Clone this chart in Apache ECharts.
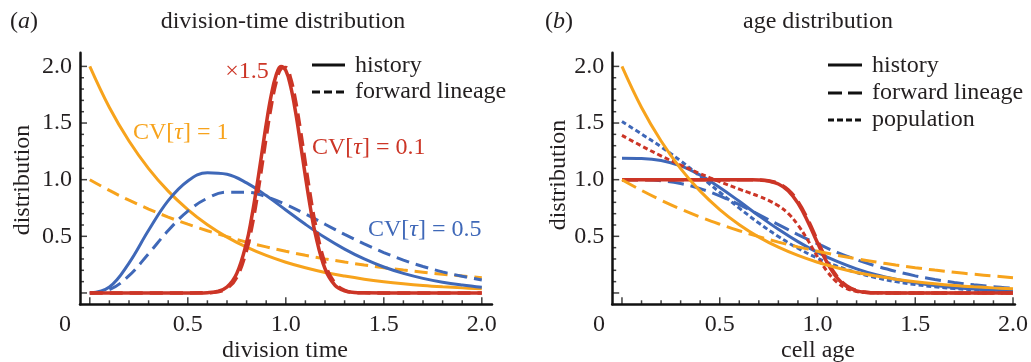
<!DOCTYPE html>
<html>
<head>
<meta charset="utf-8">
<script src="https://cdn.jsdelivr.net/npm/echarts@6/dist/echarts.min.js"></script>
<style>
  html, body { margin: 0; padding: 0; background: #fff; }
  #chart { width: 1031px; height: 362px; }
</style>
</head>
<body>
<div id="chart"></div>
<script>
  // (a) division-time distribution
  var tGrid = [0, 0.1, 0.2, 0.3, 0.4, 0.5, 0.6, 0.7, 0.8, 0.9, 1.0, 1.1, 1.2, 1.3, 1.4, 1.5, 1.6, 1.7, 1.8, 1.9, 2.0]
  var divHistExp = [2.000, 1.637, 1.341, 1.098, 0.899, 0.736, 0.602, 0.493, 0.404, 0.331, 0.271, 0.222, 0.181, 0.149, 0.122, 0.100, 0.082, 0.067, 0.055, 0.045, 0.037]
  var divFwdExp = [1.000, 0.905, 0.819, 0.741, 0.670, 0.607, 0.549, 0.497, 0.449, 0.407, 0.368, 0.333, 0.301, 0.273, 0.247, 0.223, 0.202, 0.183, 0.165, 0.150, 0.135]
  var divHistGam = [0, 0.053, 0.264, 0.553, 0.815, 0.989, 1.062, 1.048, 0.972, 0.860, 0.733, 0.606, 0.489, 0.387, 0.300, 0.229, 0.173, 0.129, 0.095, 0.070, 0.050]
  var divFwdGam = [0, 0.029, 0.153, 0.347, 0.551, 0.722, 0.836, 0.890, 0.890, 0.850, 0.782, 0.697, 0.607, 0.517, 0.433, 0.357, 0.290, 0.234, 0.186, 0.147, 0.115]
  var tGridRed = [0, 0.5, 0.6, 0.65, 0.7, 0.75, 0.8, 0.825, 0.85, 0.875, 0.9, 0.925, 0.95, 0.975, 1.0, 1.025, 1.05, 1.075, 1.1, 1.125, 1.15, 1.2, 1.25, 1.3, 1.35, 1.4, 1.5, 2.0]
  var divHistNarrow = [0, 0, 0.003, 0.013, 0.053, 0.173, 0.447, 0.659, 0.916, 1.201, 1.488, 1.739, 1.919, 1.998, 1.963, 1.821, 1.595, 1.318, 1.028, 0.757, 0.526, 0.214, 0.069, 0.018, 0.004, 0.001, 0, 0]
  var divFwdNarrow = [0, 0, 0.002, 0.010, 0.041, 0.140, 0.377, 0.568, 0.808, 1.085, 1.376, 1.645, 1.857, 1.979, 1.991, 1.890, 1.693, 1.432, 1.143, 0.861, 0.613, 0.260, 0.088, 0.024, 0.005, 0.001, 0, 0]

  // (b) age distribution
  var aGrid = [0, 0.1, 0.2, 0.3, 0.4, 0.5, 0.6, 0.7, 0.8, 0.9, 1.0, 1.1, 1.2, 1.3, 1.4, 1.5, 1.6, 1.7, 1.8, 1.9, 2.0]
  var ageHistExp = [2.000, 1.637, 1.341, 1.098, 0.899, 0.736, 0.602, 0.493, 0.404, 0.331, 0.271, 0.222, 0.181, 0.149, 0.122, 0.100, 0.082, 0.067, 0.055, 0.045, 0.037]
  var ageFwdExp = [1.000, 0.905, 0.819, 0.741, 0.670, 0.607, 0.549, 0.497, 0.449, 0.407, 0.368, 0.333, 0.301, 0.273, 0.247, 0.223, 0.202, 0.183, 0.165, 0.150, 0.135]
  var ageHistGam = [1.189, 1.187, 1.170, 1.122, 1.040, 0.931, 0.809, 0.682, 0.562, 0.453, 0.358, 0.278, 0.213, 0.161, 0.121, 0.089, 0.065, 0.048, 0.034, 0.025, 0.018]
  var ageFwdGam = [1.000, 0.999, 0.991, 0.966, 0.921, 0.857, 0.779, 0.692, 0.603, 0.515, 0.434, 0.359, 0.294, 0.238, 0.191, 0.151, 0.119, 0.093, 0.072, 0.055, 0.042]
  var agePopGam = [1.514, 1.403, 1.290, 1.166, 1.030, 0.889, 0.749, 0.617, 0.498, 0.395, 0.308, 0.237, 0.180, 0.135, 0.100, 0.074, 0.054, 0.039, 0.028, 0.020, 0.014]
  var aGridRed = [0, 0.1, 0.2, 0.3, 0.4, 0.5, 0.6, 0.65, 0.7, 0.75, 0.8, 0.85, 0.9, 0.95, 1.0, 1.05, 1.1, 1.15, 1.2, 1.25, 1.3, 1.4, 1.6, 2.0]
  var ageHistNarrow = [1, 1, 1, 1, 1, 1, 1, 0.999, 0.997, 0.988, 0.962, 0.903, 0.793, 0.632, 0.443, 0.266, 0.134, 0.056, 0.019, 0.005, 0.001, 0, 0, 0]
  var ageFwdNarrow = [1, 1, 1, 1, 1, 1, 1, 1.000, 0.997, 0.990, 0.966, 0.911, 0.807, 0.650, 0.462, 0.282, 0.145, 0.062, 0.022, 0.006, 0.001, 0, 0, 0]
  var agePopNarrow = [1.391, 1.298, 1.210, 1.129, 1.053, 0.982, 0.916, 0.885, 0.853, 0.817, 0.770, 0.702, 0.600, 0.467, 0.320, 0.189, 0.094, 0.039, 0.013, 0.004, 0.001, 0, 0, 0]

  // tick positions and labels
  var labelValues = [0.5, 1.0, 1.5, 2.0]
  var majorTicks = [0, 0.5, 1.0, 1.5, 2.0]
  var minorTicks = [0.1, 0.2, 0.3, 0.4, 0.6, 0.7, 0.8, 0.9, 1.1, 1.2, 1.3, 1.4, 1.6, 1.7, 1.8, 1.9]

  var ORANGE = '#f7a31c'
  var BLUE = '#3f68b8'
  var RED = '#cc3526'
  var FONT = '"Liberation Serif", "Times New Roman", serif'
  var TXT = '#231f20'

  var X_MIN = [-0.05, -0.05]
  var X_MAX = [2.052, 2.01]
  var Y_MIN = -0.1
  var Y_MAX = 2.12

  function pts(xs, ys) {
    return xs.map(function (x, i) { return [x, ys[i]] })
  }

  function line(name, xs, ys, color, dash, axis, w) {
    return {
      name: name,
      type: 'line',
      xAxisIndex: axis,
      yAxisIndex: axis,
      data: pts(xs, ys),
      smooth: 0.4,
      symbol: 'none',
      silent: true,
      lineStyle: { color: color, width: w || 3, type: dash || 'solid', cap: 'butt' }
    }
  }

  // inward frame ticks, placed on the axis lines through the axis scales
  function ticks(axis, kind, values, len) {
    var data = values.map(function (v) {
      return kind === 'x' ? [v, Y_MIN] : [X_MIN[axis], v]
    })
    return {
      type: 'scatter', xAxisIndex: axis, yAxisIndex: axis, silent: true, clip: false, z: 5,
      data: data,
      symbol: 'rect',
      symbolSize: kind === 'x' ? [1.5, len] : [len, 1.5],
      symbolOffset: kind === 'x' ? [0, -len / 2] : [len / 2, 0],
      itemStyle: { color: '#111' }
    }
  }

  function tickLabel(v) {
    for (var i = 0; i < labelValues.length; i++) {
      if (Math.abs(v - labelValues[i]) < 1e-6) return labelValues[i].toFixed(1)
    }
    return ''
  }

  // min is a multiple of the interval so the labels fall on round values
  function axis(kind, grid, min, max, step) {
    return {
      type: 'value', gridIndex: grid, min: min, max: max, interval: step,
      position: kind === 'x' ? 'bottom' : 'left',
      splitLine: { show: false },
      axisLine: { show: true, onZero: false, lineStyle: { color: '#111', width: 2.5 } },
      axisTick: { show: false },
      axisLabel: { show: true, margin: 8, color: TXT, fontFamily: FONT, fontSize: 24,
        showMinLabel: false, showMaxLabel: false, formatter: tickLabel }
    }
  }

  function txt(s, x, y, opts) {
    opts = opts || {}
    return {
      type: 'text', x: x, y: y, rotation: opts.rotation || 0, silent: true,
      style: {
        text: s, fill: opts.color || TXT, font: (opts.size || 24) + 'px ' + FONT,
        textAlign: opts.align || 'center', textVerticalAlign: 'middle',
        rich: opts.rich
      }
    }
  }

  function cvRich(color) {
    return {
      n: { fill: color, color: color, fontFamily: FONT, fontSize: 24 },
      i: { fill: color, color: color, fontFamily: FONT, fontSize: 24, fontStyle: 'italic' }
    }
  }

  function legLine(x1, x2, y, dash) {
    return {
      type: 'line', silent: true,
      shape: { x1: x1, y1: y, x2: x2, y2: y },
      style: { stroke: '#111', lineWidth: 3, lineDash: dash || null }
    }
  }

  var labRich = {
    n: { fontFamily: FONT, fontSize: 24, fill: TXT, color: TXT },
    i: { fontFamily: FONT, fontSize: 24, fontStyle: 'italic', fill: TXT, color: TXT }
  }

  var chart = echarts.init(document.getElementById('chart'))
  var option = {
    animation: false,
    backgroundColor: '#fff',
    grid: [
      { left: 80, top: 52.8, width: 412, height: 251.5 },
      { left: 612.2, top: 52.8, width: 404.8, height: 251.5 }
    ],
    xAxis: [axis('x', 0, X_MIN[0], X_MAX[0], 0.05), axis('x', 1, X_MIN[1], X_MAX[1], 0.05)],
    yAxis: [axis('y', 0, Y_MIN, Y_MAX, 0.1), axis('y', 1, Y_MIN, Y_MAX, 0.1)],
    series: [
      line('a orange forward', tGrid, divFwdExp, ORANGE, [13, 7], 0),
      line('a orange history', tGrid, divHistExp, ORANGE, null, 0),
      line('a blue forward', tGrid, divFwdGam, BLUE, [13, 7], 0),
      line('a blue history', tGrid, divHistGam, BLUE, null, 0),
      line('a red forward', tGridRed, divFwdNarrow, RED, [13, 7], 0, 3.5),
      line('a red history', tGridRed, divHistNarrow, RED, null, 0, 3.5),

      line('b blue population', aGrid, agePopGam, BLUE, [5, 3], 1),
      line('b blue forward', aGrid, ageFwdGam, BLUE, [16, 7], 1),
      line('b blue history', aGrid, ageHistGam, BLUE, null, 1),
      line('b red population', aGridRed, agePopNarrow, RED, [5, 3], 1),
      line('b red forward', aGridRed, ageFwdNarrow, RED, [16, 7], 1, 3.5),
      line('b red history', aGridRed, ageHistNarrow, RED, null, 1, 3.5),
      line('b orange forward', aGrid, ageFwdExp, ORANGE, [16, 7], 1),
      line('b orange history', aGrid, ageHistExp, ORANGE, null, 1),

      ticks(0, 'x', majorTicks, 7), ticks(0, 'x', minorTicks, 4),
      ticks(0, 'y', majorTicks, 7), ticks(0, 'y', minorTicks, 4),
      ticks(1, 'x', majorTicks, 7), ticks(1, 'x', minorTicks, 4),
      ticks(1, 'y', majorTicks, 7), ticks(1, 'y', minorTicks, 4)
    ],
    graphic: [
      txt('{n|(}{i|a}{n|)}', 10, 22, { align: 'left', rich: labRich }),
      txt('division-time distribution', 283, 22),
      txt('{n|(}{i|b}{n|)}', 545, 22, { align: 'left', rich: labRich }),
      txt('age distribution', 818, 22),
      txt('distribution', 23, 180, { rotation: Math.PI / 2 }),
      txt('distribution', 559, 175, { rotation: Math.PI / 2 }),
      txt('division time', 285, 351),
      txt('cell age', 818, 351),
      txt('0', 65, 325),
      txt('0', 599, 325),

      legLine(312, 345, 65), txt('history', 355, 66, { align: 'left' }),
      legLine(312, 345, 92, [8, 4]), txt('forward lineage', 355, 92, { align: 'left' }),
      legLine(828, 862, 65), txt('history', 872, 66, { align: 'left' }),
      legLine(828, 862, 93, [14, 6]), txt('forward lineage', 872, 93, { align: 'left' }),
      legLine(828, 862, 120, [6, 3]), txt('population', 872, 120, { align: 'left' }),

      txt('×1.5', 247, 72, { color: RED }),
      txt('{n|CV[}{i|τ}{n|] = 1}', 133, 133, { align: 'left', rich: cvRich(ORANGE) }),
      txt('{n|CV[}{i|τ}{n|] = 0.1}', 312, 148, { align: 'left', rich: cvRich(RED) }),
      txt('{n|CV[}{i|τ}{n|] = 0.5}', 368, 230, { align: 'left', rich: cvRich(BLUE) })
    ]
  }
  chart.setOption(option)
</script>
</body>
</html>
